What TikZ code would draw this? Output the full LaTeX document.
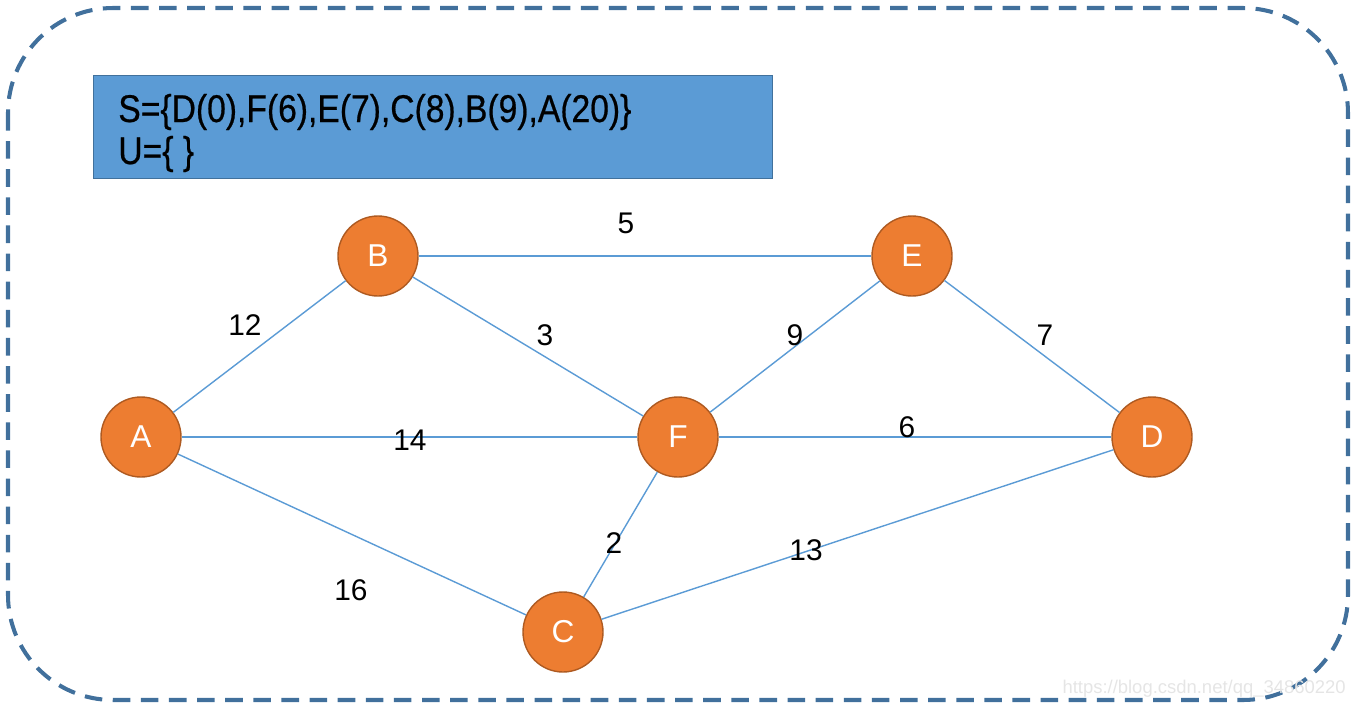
\documentclass[tikz,border=0pt]{standalone}
\usepackage{fontspec}
\setmainfont{Liberation Sans}
\newfontfamily\boxfont[FakeBold=0.6]{Liberation Sans}
\usepackage{graphicx}
\definecolor{frame}{HTML}{41709C}
\definecolor{boxfill}{HTML}{5B9BD5}
\definecolor{boxline}{HTML}{41719C}
\definecolor{vfill}{HTML}{ED7D31}
\definecolor{vline}{HTML}{AE5A21}
\definecolor{edge}{HTML}{5B9BD5}
\begin{document}
\begin{tikzpicture}[
  vertex/.style={circle, fill=vfill, draw=vline, line width=0.8pt, minimum size=1.6cm, inner sep=0pt, text=white, font=\fontsize{18}{18}\selectfont},
  wlabel/.style={font=\fontsize{17}{17}\selectfont, inner sep=0pt},
  link/.style={draw=edge, line width=0.8pt},
  boxtext/.style={anchor=west, inner sep=0pt, font=\boxfont\fontsize{22}{22}\selectfont}
]
\useasboundingbox (0,0) rectangle (27.12,-14.16);
\draw[frame, line width=2.3pt, dash pattern=on 10pt off 6pt, rounded corners=2.1cm] (0.16,-0.16) rectangle (26.96,-14.0);
\node[draw=boxline, fill=boxfill, line width=0.8pt, minimum width=13.58cm, minimum height=2.06cm, anchor=north west, inner sep=0pt] (box) at (1.86,-1.50) {};
\node[boxtext] (sline) at (2.36,-2.24) {\scalebox{0.87}[1]{S=\{D(0),F(6),E(7),C(8),B(9),A(20)\}}};
\node[boxtext] (uline) at (2.36,-3.08) {\scalebox{0.87}[1]{U=\{ \}}};

\node[vertex] (A) at (2.82,-8.74) {A};
\node[vertex] (B) at (7.56,-5.12) {B};
\node[vertex] (E) at (18.24,-5.12) {E};
\node[vertex] (F) at (13.56,-8.74) {F};
\node[vertex] (D) at (23.04,-8.74) {D};
\node[vertex] (C) at (11.26,-12.64) {C};

\draw[link] (A) -- (B);
\draw[link] (A) -- (F);
\draw[link] (A) -- (C);
\draw[link] (B) -- (E);
\draw[link] (B) -- (F);
\draw[link] (F) -- (E);
\draw[link] (E) -- (D);
\draw[link] (F) -- (D);
\draw[link] (C) -- (F);
\draw[link] (C) -- (D);

\node[wlabel] (l12) at (4.90,-6.50) {12};
\node[wlabel] (l3) at (10.90,-6.70) {3};
\node[wlabel] (l5) at (12.52,-4.46) {5};
\node[wlabel] (l9) at (15.90,-6.70) {9};
\node[wlabel] (l7) at (20.90,-6.70) {7};
\node[wlabel] (l14) at (8.20,-8.80) {14};
\node[wlabel] (l6) at (18.14,-8.54) {6};
\node[wlabel] (l2) at (12.28,-10.86) {2};
\node[wlabel] (l13) at (16.12,-11.00) {13};
\node[wlabel] (l16) at (7.02,-11.80) {16};

\node[anchor=east, inner sep=0pt, text=black!10, font=\fontsize{10.5}{10.5}\selectfont] (wm) at (26.92,-13.78) {https://blog.csdn.net/qq\_34860220};
\end{tikzpicture}
\end{document}
